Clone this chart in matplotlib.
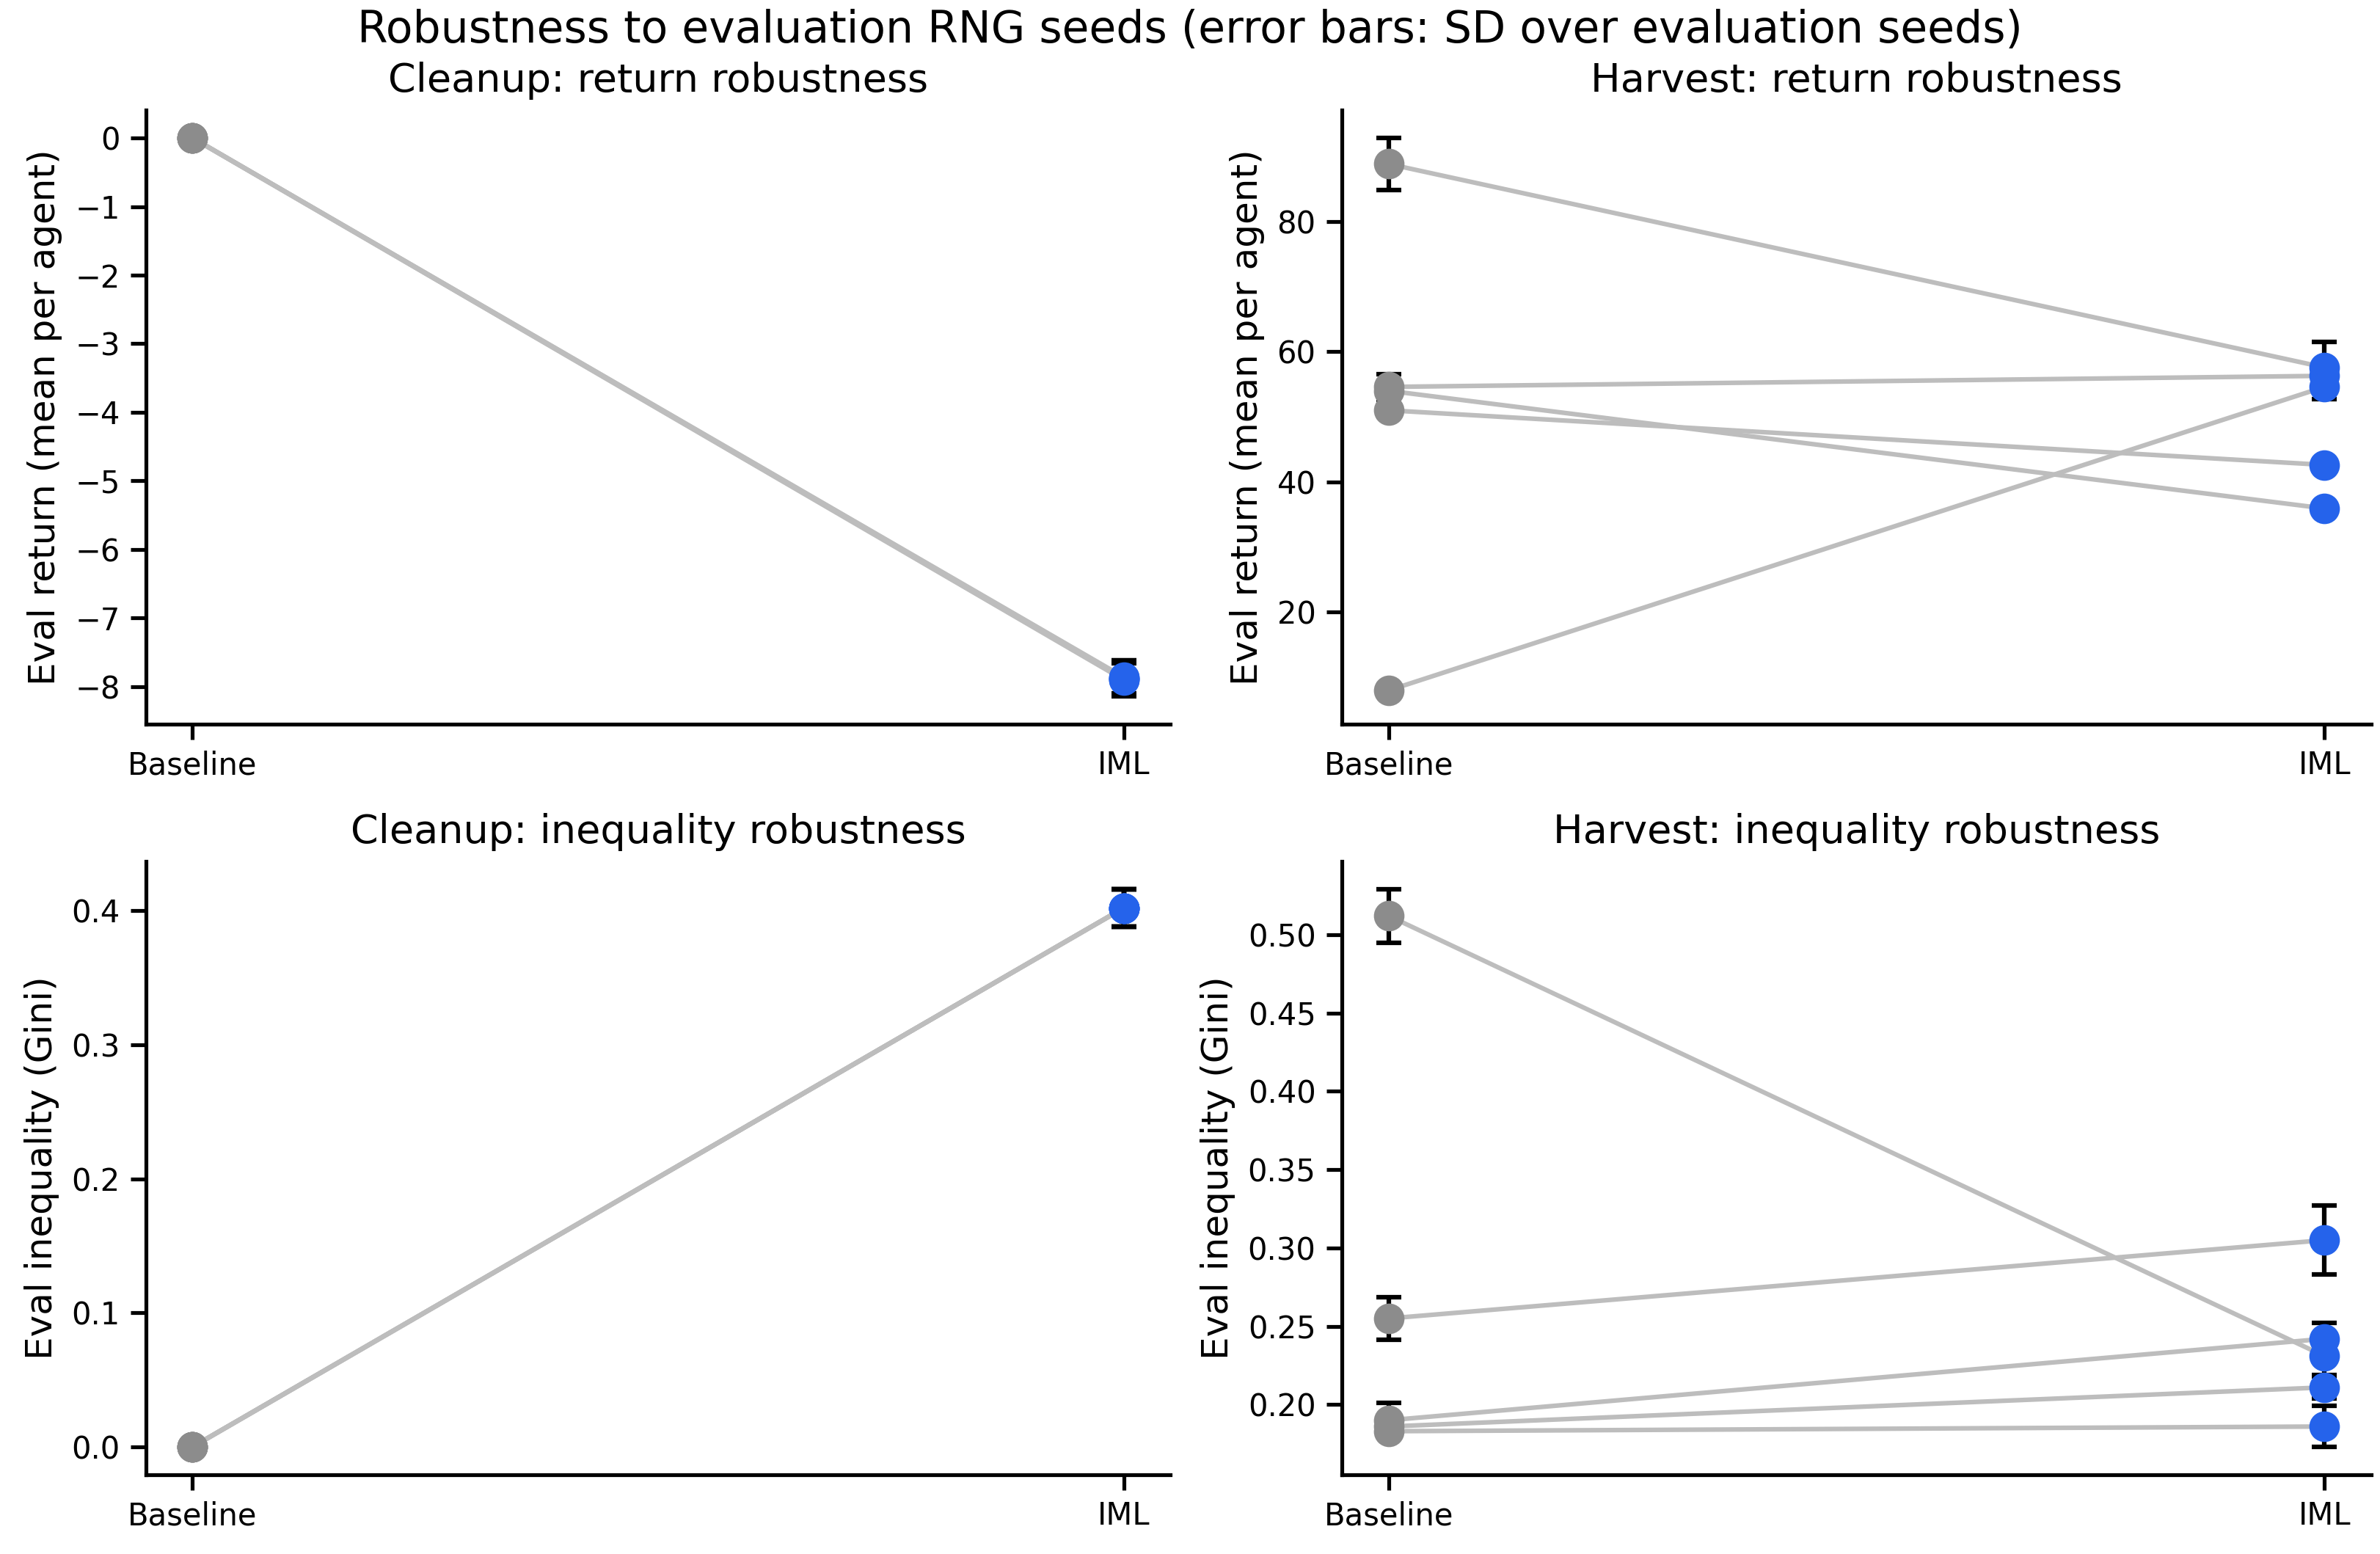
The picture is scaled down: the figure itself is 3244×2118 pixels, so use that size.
import matplotlib
matplotlib.use("Agg")
import matplotlib.pyplot as plt

conditions = ["Baseline", "IML"]

cleanup_return_base = [0.0, 0.0, 0.0, 0.0, 0.0]
cleanup_return_base_sd = [0.0, 0.0, 0.0, 0.0, 0.0]
cleanup_return_iml = [-7.86, -7.88, -7.90, -7.87, -7.89]
cleanup_return_iml_sd = [0.24, 0.25, 0.24, 0.25, 0.24]

harvest_return_base = [88.9, 54.6, 54.0, 51.0, 7.9]
harvest_return_base_sd = [4.0, 2.0, 1.5, 1.0, 0.9]
harvest_return_iml = [57.6, 56.3, 35.9, 42.6, 54.6]
harvest_return_iml_sd = [3.9, 1.0, 0.8, 0.9, 1.9]

cleanup_gini_base = [0.0, 0.0, 0.0, 0.0, 0.0]
cleanup_gini_base_sd = [0.0, 0.0, 0.0, 0.0, 0.0]
cleanup_gini_iml = [0.402, 0.402, 0.402, 0.402, 0.402]
cleanup_gini_iml_sd = [0.014, 0.014, 0.014, 0.014, 0.014]

harvest_gini_base = [0.512, 0.255, 0.190, 0.186, 0.183]
harvest_gini_base_sd = [0.017, 0.0135, 0.011, 0.005, 0.003]
harvest_gini_iml = [0.231, 0.305, 0.242, 0.211, 0.186]
harvest_gini_iml_sd = [0.012, 0.022, 0.010, 0.007, 0.013]

BASE_COLOR = "#8c8c8c"
IML_COLOR = "#2563eb"
LINE_COLOR = "#bdbdbd"

fig = plt.figure(figsize=(3244 / 300, 2118 / 300), dpi=300)
W, H = 3244, 2118
def rect(x0, y0, x1, y1):
    return [x0 / W, 1 - y1 / H, (x1 - x0) / W, (y1 - y0) / H]

axes = {
    "cr": fig.add_axes(rect(199, 150, 1595, 987)),
    "hr": fig.add_axes(rect(1829, 150, 3232, 987)),
    "cg": fig.add_axes(rect(199, 1174, 1595, 2010)),
    "hg": fig.add_axes(rect(1829, 1174, 3232, 2010)),
}

def panel(ax, base, base_sd, iml, iml_sd, title, ylabel):
    for b, i in zip(base, iml):
        ax.plot([0, 1], [b, i], color=LINE_COLOR, lw=1.5, zorder=1)
    for b, s in zip(base, base_sd):
        ax.errorbar(0, b, yerr=s, fmt="o", color=BASE_COLOR, ecolor="black",
                    elinewidth=1.5, capsize=4, capthick=1.5, markersize=9, zorder=2)
    for i, s in zip(iml, iml_sd):
        ax.errorbar(1, i, yerr=s, fmt="o", color=IML_COLOR, ecolor="black",
                    elinewidth=1.5, capsize=4, capthick=1.5, markersize=9, zorder=2)
    ax.set_xticks([0, 1])
    ax.set_xticklabels(conditions)
    ax.set_title(title, fontsize=13)
    ax.set_ylabel(ylabel, fontsize=12)
    ax.spines["top"].set_visible(False)
    ax.spines["right"].set_visible(False)
    for sp in ("left", "bottom"):
        ax.spines[sp].set_linewidth(1.25)
    ax.tick_params(width=1.25, length=5, labelsize=10)

panel(axes["cr"], cleanup_return_base, cleanup_return_base_sd, cleanup_return_iml,
      cleanup_return_iml_sd, "Cleanup: return robustness", "Eval return (mean per agent)")
panel(axes["hr"], harvest_return_base, harvest_return_base_sd, harvest_return_iml,
      harvest_return_iml_sd, "Harvest: return robustness", "Eval return (mean per agent)")
panel(axes["cg"], cleanup_gini_base, cleanup_gini_base_sd, cleanup_gini_iml,
      cleanup_gini_iml_sd, "Cleanup: inequality robustness", "Eval inequality (Gini)")
panel(axes["hg"], harvest_gini_base, harvest_gini_base_sd, harvest_gini_iml,
      harvest_gini_iml_sd, "Harvest: inequality robustness", "Eval inequality (Gini)")

fig.suptitle("Robustness to evaluation RNG seeds (error bars: SD over evaluation seeds)",
             fontsize=14.4, y=1 - 42 / H, va="center")

fig.savefig("out.png", dpi=300)
